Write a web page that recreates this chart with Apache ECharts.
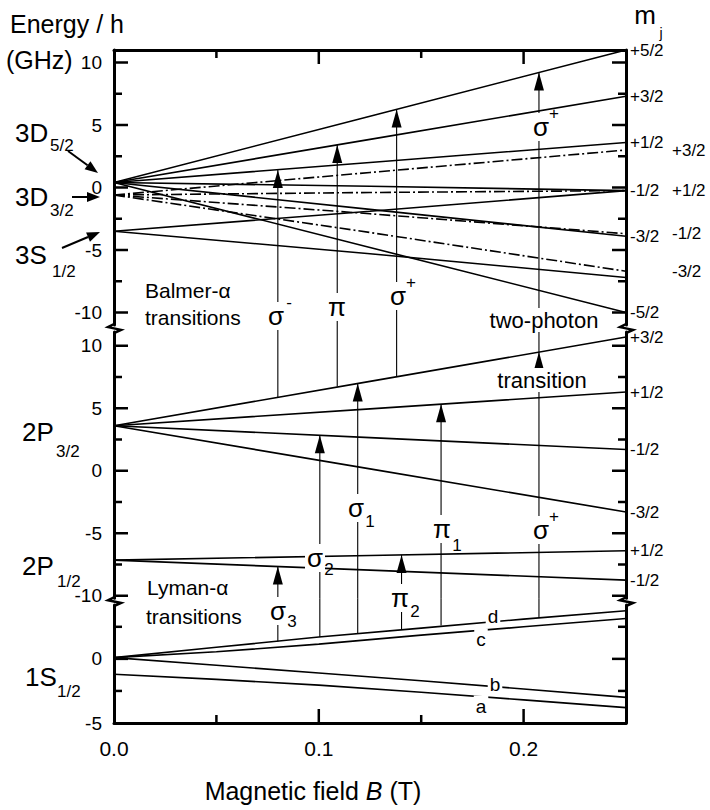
<!DOCTYPE html>
<html><head><meta charset="utf-8">
<script src="https://cdn.jsdelivr.net/npm/echarts@6.0.0/dist/echarts.min.js"></script>
<style>html,body{margin:0;padding:0;background:#fff}#chart{width:710px;height:810px}</style>
</head><body><div id="chart"></div>
<script>
// ---------------- data ----------------
// magnetic field sample points (T)
const fieldN23 = [0, 0.125, 0.25];
const fieldN1 = [0, 0.05, 0.1, 0.15, 0.2, 0.25];
// n = 3 : 3D5/2 (solid), 3D3/2 (dash-dot), 3S1/2 (solid)   Energy/h in GHz
const d52Labels = ['+5/2', '+3/2', '+1/2', '-1/2', '-3/2', '-5/2'];
const d52Values = [[0.4, 5.7, 11.0], [0.4, 3.85, 7.3], [0.4, 2.0, 3.6], [0.4, 0.1, -0.25], [0.4, -1.75, -3.9], [0.4, -4.8, -10.0]];
const d32Labels = ['+3/2', '+1/2', '-1/2', '-3/2'];
const d32Values = [[-0.6, 1.2, 3.0], [-0.6, -0.4, -0.25], [-0.6, -2.1, -3.7], [-0.6, -3.6, -6.7]];
const s3Values = [[-3.5, -1.9, -0.25], [-3.5, -5.3, -7.2]];
// n = 2 : 2P3/2, 2P1/2
const p32Labels = ['+3/2', '+1/2', '-1/2', '-3/2'];
const p32Values = [[3.6, 7.15, 10.7], [3.6, 4.95, 6.3], [3.6, 2.65, 1.7], [3.6, 0.15, -3.3]];
const p12Labels = ['+1/2', '-1/2'];
const p12Values = [[-7.15, -6.78, -6.4], [-7.15, -7.95, -8.75]];
// n = 1 : 1S1/2 hyperfine levels d, c, b, a
const s1Labels = ['d', 'c', 'b', 'a'];
const s1Values = [[0.1, 0.9, 1.7, 2.4, 3.1, 3.75], [0.1, 0.55, 1.15, 1.85, 2.5, 3.15], [0.1, -0.5, -1.1, -1.7, -2.35, -3.0], [-1.2, -1.6, -2.05, -2.6, -3.2, -3.8]];
// transitions: field (T), lower level [panel, GHz], upper level [panel, GHz]; panel 0 = n3, 1 = n2, 2 = n1
const transField = [0.08, 0.109, 0.138, 0.2075, 0.2075, 0.08, 0.1005, 0.119, 0.1404, 0.1597];
const transFrom = [[1, 5.9], [1, 6.75], [1, 7.5], [1, 9.5], [2, 3.2], [2, 1.35], [2, 1.7], [2, 2.0], [2, 2.3], [2, 2.6]];
const transTo = [[0, 1.4], [0, 3.4], [0, 6.25], [0, 9.2], [1, 9.5], [1, -7.66], [1, 2.84], [1, 6.98], [1, -6.73], [1, 5.33]];
// ticks
const yMajor23 = [-10, -5, 0, 5, 10];
const yMinor23 = [-7.5, -2.5, 2.5, 7.5];
const yMajor1 = [0];
const yMinor1 = [-2.5, 2.5];
const yLabels23 = [-10, -5, 0, 5, 10];
const yLabels1 = [-5, 0];
const xMajorTicks = [0.1, 0.2];
const xMinorTicks = [0.05, 0.15];
const xTickLabels = [0, 0.1, 0.2];

// ---------------- layout ----------------
const FONT = '"Liberation Sans", Arial, Helvetica, sans-serif';
const L = 114, W = 512, XMAX = 0.25;
const panels = [
  { top: 50, height: 275, min: -11, max: 11 },
  { top: 332, height: 266.25, min: -10.2, max: 11.1 },
  { top: 605, height: 118, min: -5, max: 4.2 }
];
const xIdx = [0, 2, 3];
const yMajorSets = [yMajor23, yMajor23, yMajor1];
const yMinorSets = [yMinor23, yMinor23, yMinor1];
const yLabelSets = [yLabels23, yLabels23, yLabels1];
const BLACK = '#000';

const grid = panels.map(p => ({ left: L, width: W, top: p.top, height: p.height, containLabel: false, outerBoundsMode: 'none' }));

const xAxis = [
  { gridIndex: 0, type: 'value', position: 'top', min: 0, max: XMAX,
    axisLine: { show: true, onZero: false, lineStyle: { color: BLACK, width: 3 } },
    axisTick: { show: false }, axisLabel: { show: false }, splitLine: { show: false } },
  { gridIndex: 0, type: 'value', position: 'top', min: 0, max: XMAX, show: false },
  { gridIndex: 1, type: 'value', min: 0, max: XMAX, show: false },
  { gridIndex: 2, type: 'value', position: 'bottom', min: 0, max: XMAX,
    axisLine: { show: true, onZero: false, lineStyle: { color: BLACK, width: 3 } },
    axisTick: { show: false },
    axisLabel: { show: true, customValues: xTickLabels, formatter: v => Number(v).toFixed(1), color: BLACK, fontSize: 21, fontFamily: FONT, margin: 15 },
    splitLine: { show: false } },
  { gridIndex: 2, type: 'value', position: 'bottom', min: 0, max: XMAX, show: false }
];

const yAxis = [];
panels.forEach((p, i) => {
  yAxis.push({ gridIndex: i, type: 'value', position: 'left', min: p.min, max: p.max,
    axisLine: { show: true, onZero: false, lineStyle: { color: BLACK, width: 3 } },
    axisTick: { show: false },
    axisLabel: { show: true, customValues: yLabelSets[i], color: BLACK, fontSize: 19, fontFamily: FONT, margin: 12 },
    splitLine: { show: false } });
  yAxis.push({ gridIndex: i, type: 'value', position: 'right', min: p.min, max: p.max,
    axisLine: { show: true, onZero: false, lineStyle: { color: BLACK, width: 3 } },
    axisTick: { show: false }, axisLabel: { show: false }, splitLine: { show: false } });
});

const series = [];
function level(panel, xs, vals, label, dist, dashed) {
  series.push({
    type: 'line', xAxisIndex: xIdx[panel], yAxisIndex: panel * 2,
    data: xs.map((b, k) => [b, vals[k]]), symbol: 'none', silent: true, z: 2,
    lineStyle: { color: BLACK, width: 1.6, type: dashed ? [11, 3, 2, 3] : 'solid' },
    endLabel: label ? { show: true, formatter: () => label, distance: dist, color: BLACK, fontSize: 17, fontFamily: FONT } : { show: false }
  });
}
d52Values.forEach((v, k) => level(0, fieldN23, v, d52Labels[k], 4, false));
d32Values.forEach((v, k) => level(0, fieldN23, v, d32Labels[k], 46, true));
s3Values.forEach(v => level(0, fieldN23, v, null, 0, false));
p32Values.forEach((v, k) => level(1, fieldN23, v, p32Labels[k], 4, false));
p12Values.forEach((v, k) => level(1, fieldN23, v, p12Labels[k], 4, false));
s1Values.forEach(v => level(2, fieldN1, v, null, 0, false));

// transition arrows
const ppu = p => p.height / (p.max - p.min);
function segment(panel, b, v0, v1, head) {
  series.push({
    type: 'line', xAxisIndex: xIdx[panel], yAxisIndex: panel * 2, clip: false, silent: true, z: 3,
    symbol: 'none', showSymbol: true,
    lineStyle: { color: BLACK, width: 1.1 },
    data: [[b, v0], head ? { value: [b, v1], symbol: 'triangle', symbolSize: [10, 18], symbolOffset: [0, 9], itemStyle: { color: BLACK } } : [b, v1]]
  });
}
transField.forEach((b, k) => {
  const [pl, vl] = transFrom[k];
  const [pu, vu] = transTo[k];
  if (pl === pu) { segment(pl, b, vl, vu, true); return; }
  const lower = panels[pl], upper = panels[pu];
  const gapPx = lower.top - (upper.top + upper.height);
  segment(pl, b, vl, lower.max + gapPx / ppu(lower), false);
  segment(pu, b, upper.min, vu, true);
});

// ---------------- axis ticks (positions from the axis ranges) and annotations ----------------
function toPx(panel, b, v) {
  const p = panels[panel];
  return [L + b / XMAX * W, p.top + (p.max - v) * ppu(p)];
}
const graphic = [];
function seg(x1, y1, x2, y2, w) {
  graphic.push({ type: 'line', z: 100, silent: true, shape: { x1: x1, y1: y1, x2: x2, y2: y2 }, style: { stroke: BLACK, lineWidth: w || 2.5 } });
}
panels.forEach((p, i) => {
  [[yMajorSets[i], 14], [yMinorSets[i], 8]].forEach(([vals, len]) => {
    vals.forEach(v => {
      const a = toPx(i, 0, v);
      const b = toPx(i, XMAX, v);
      seg(a[0], a[1], a[0] + len, a[1]);
      seg(b[0], b[1], b[0] - len, b[1]);
    });
  });
});
[[0, panels[0].max, 1], [2, panels[2].min, -1]].forEach(([pi, yv, dir]) => {
  xMajorTicks.forEach(b => { const q = toPx(pi, b, yv); seg(q[0], q[1], q[0], q[1] + dir * 14); });
  xMinorTicks.forEach(b => { const q = toPx(pi, b, yv); seg(q[0], q[1], q[0], q[1] + dir * 8); });
});

function T(text, x, y, size, o) {
  o = o || {};
  const al = o.align || 'left';
  const st = { text, fill: BLACK, font: (o.italic ? 'italic ' : '') + size + 'px ' + FONT,
    align: al, verticalAlign: 'middle', textAlign: al, textVerticalAlign: 'middle' };
  if (o.bg) { st.backgroundColor = '#fff'; st.padding = o.pad || [1, 2]; }
  graphic.push({ type: 'text', x, y, z: 100, silent: true, style: st });
}
function arrow(x1, y1, x2, y2) {
  const dx = x2 - x1, dy = y2 - y1, len = Math.hypot(dx, dy), ux = dx / len, uy = dy / len;
  const hl = 13, hw = 5;
  const bx = x2 - ux * hl, by = y2 - uy * hl;
  graphic.push({ type: 'line', z: 100, silent: true, shape: { x1, y1, x2: bx, y2: by }, style: { stroke: BLACK, lineWidth: 2 } });
  graphic.push({ type: 'polygon', z: 100, silent: true, shape: { points: [[x2, y2], [bx - uy * hw, by + ux * hw], [bx + uy * hw, by - ux * hw]] }, style: { fill: BLACK } });
}
function zig(x, y0, y1) {
  const h = y1 - y0;
  graphic.push({ type: 'polyline', z: 100, silent: true,
    shape: { points: [[x, y0 - 1], [x - 6, y0 + h * 0.3], [x + 7, y0 + h * 0.7], [x, y1 + 1]] },
    style: { stroke: BLACK, lineWidth: 2.5, fill: null } });
}
const bot0 = panels[0].top + panels[0].height, bot1 = panels[1].top + panels[1].height;
zig(L, bot0, panels[1].top); zig(L + W, bot0, panels[1].top);
zig(L, bot1, panels[2].top); zig(L + W, bot1, panels[2].top);

T('Energy / h', 10, 24, 25);
T('(GHz)', 6, 60, 25);
T('m', 645, 15, 26, { align: 'center' });
T('j', 661, 33, 14, { align: 'center' });
T('3D', 15, 133, 26); T('5/2', 50, 145, 17);
T('3D', 15, 197, 26); T('3/2', 50, 210, 17);
T('3S', 15, 255, 26); T('1/2', 52, 271, 17);
T('2P', 22, 432, 26); T('3/2', 56, 451, 17);
T('2P', 22, 566, 26); T('1/2', 57, 581, 17);
T('1S', 25, 677, 26); T('1/2', 57, 691, 17);
arrow(68, 151, 98, 173);
arrow(72, 197, 100, 197);
arrow(62, 248, 100, 232);
T('Balmer-\u03b1', 145, 290, 21);
T('transitions', 145, 317, 21);
T('Lyman-\u03b1', 147, 587, 21);
T('transitions', 146, 616, 21);
T('two-photon', 544, 320, 22, { align: 'center', bg: true });
T('transition', 542, 380, 22, { align: 'center', bg: true });
const C = { align: 'center', bg: true };
const S = { align: 'center' };
T('\u03c3', 276, 316, 26, C); T('-', 289, 302, 17, S);
T('\u03c0', 337, 307, 26, C);
T('\u03c3', 398, 296, 26, C); T('+', 411, 282, 17, S);
T('\u03c3', 541, 127, 26, C); T('+', 554, 113, 17, S);
T('\u03c3', 541, 530, 26, C); T('+', 554, 516, 17, S);
T('\u03c3', 356, 508, 26, C); T('1', 370, 521, 17, S);
T('\u03c3', 315, 558, 26, C); T('2', 329, 569, 17, S);
T('\u03c3', 278, 611, 26, C); T('3', 292, 621, 17, S);
T('\u03c0', 442, 529, 26, C); T('1', 457, 545, 17, S);
T('\u03c0', 400, 598, 26, C); T('2', 415, 611, 17, S);
T(s1Labels[0], 493, 616, 19, C);
T(s1Labels[1], 481, 639, 19, C);
T(s1Labels[2], 495, 684, 19, C);
T(s1Labels[3], 481, 706, 19, C);
graphic.push({ type: 'text', x: 313, y: 791, z: 100, silent: true,
  style: { text: '{n|Magnetic field }{i|B}{n| (T)}', fill: BLACK, align: 'center', verticalAlign: 'middle', textAlign: 'center', textVerticalAlign: 'middle',
    rich: { n: { fontSize: 25, fontFamily: FONT, fill: BLACK }, i: { fontSize: 25, fontFamily: FONT, fontStyle: 'italic', fill: BLACK } } } });

const chart = echarts.init(document.getElementById('chart'), null, { renderer: 'svg' });
chart.setOption({
  animation: false,
  backgroundColor: '#fff',
  textStyle: { fontFamily: FONT },
  grid, xAxis, yAxis, series, graphic
});
</script></body></html>
